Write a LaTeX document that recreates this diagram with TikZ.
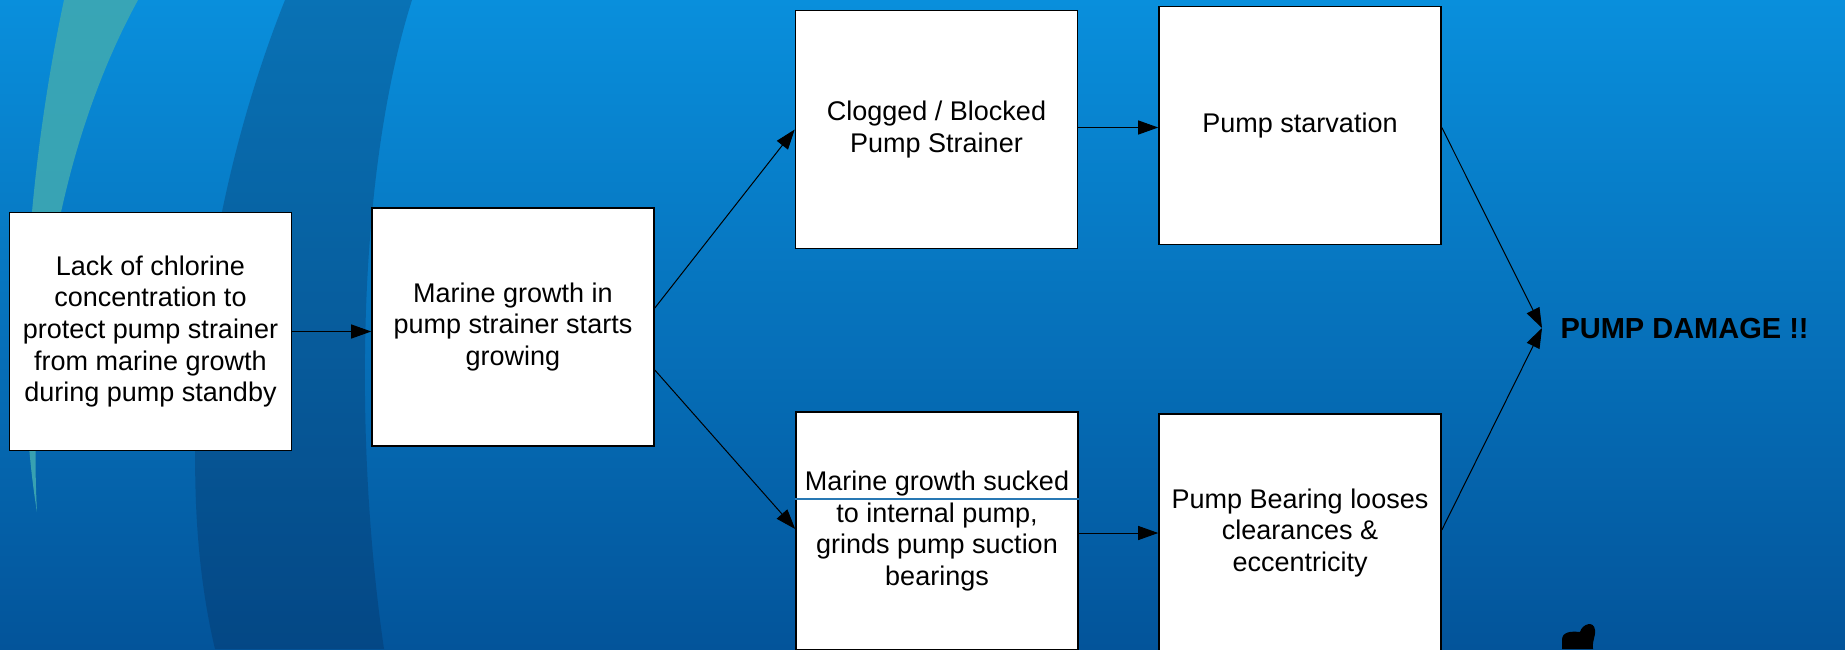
\documentclass[tikz,border=0pt]{standalone}
\usepackage{fontspec}
\setmainfont{Liberation Sans}
\usetikzlibrary{arrows.meta}

\definecolor{fondoarriba}{RGB}{9,143,220}
\definecolor{fondoabajo}{RGB}{3,84,154}
\definecolor{arcoclaro}{RGB}{62,168,178}
\definecolor{arcooscuro}{RGB}{10,40,80}
\definecolor{linea}{RGB}{40,120,180}

\begin{document}
\begin{tikzpicture}[x=0.5pt,y=-0.5pt,line width=0.5pt,>={Triangle[length=10pt,width=7pt]},
  caja/.style={draw=black,line width=0.8pt,fill=white,minimum width=141pt,minimum height=119pt,
    inner sep=2pt,align=center,font=\fontsize{13.5pt}{15.8pt}\selectfont}]
  \useasboundingbox (0,0) rectangle (1845,649);
  % fondo
  \shade[top color=fondoarriba,bottom color=fondoabajo] (0,0) rectangle (1845,649);
  \fill[arcooscuro,opacity=0.28] (285,0) .. controls (205,200) and (170,460) .. (215,649)
    -- (384,649) .. controls (355,450) and (355,180) .. (412,0) -- cycle;
  \fill[arcoclaro,opacity=0.9] (64,0) .. controls (30,160) and (12,360) .. (37,512)
    .. controls (30,380) and (45,170) .. (138,0) -- cycle;
  \fill[black] (1562,649) -- (1562,640) .. controls (1562,632) and (1570,631) .. (1580,632)
    .. controls (1582,624) and (1594,620) .. (1595,630) .. controls (1596,636) and (1592,640) .. (1593,649) -- cycle;
  % cajas
  \node[caja] (falta) at (150.5,331.5) {Lack of chlorine\\concentration to\\protect pump strainer\\from marine growth\\during pump standby};
  \node[caja] (crece) at (513,327) {Marine growth in\\pump strainer starts\\growing};
  \node[caja] (tapado) at (936.5,129.5) {Clogged / Blocked\\Pump Strainer};
  \node[caja] (hambre) at (1300,125.5) {Pump starvation};
  \node[caja] (succion) at (937,531) {Marine growth sucked\\to internal pump,\\grinds pump suction\\bearings};
  \node[caja] (cojinete) at (1300,533) {Pump Bearing looses\\clearances \&\\eccentricity};
  \draw[linea,line width=0.6pt] ([yshift=16pt]succion.west) -- ([yshift=16pt]succion.east);
  % resultado
  \node[anchor=west,inner sep=0pt,font=\fontsize{14.5pt}{17pt}\selectfont\bfseries] (dano) at (1560,329) {PUMP DAMAGE !!};
  \coordinate (junta) at (1542,328);
  % flechas
  \draw[->] (falta.east) -- (falta.east -| crece.west);
  \draw[->] ([yshift=9.5pt]crece.east) -- (tapado.west);
  \draw[->] ([yshift=-21.5pt]crece.east) -- ([yshift=1pt]succion.west);
  \draw[->] ([yshift=1pt]tapado.east) -- ([yshift=1pt]tapado.east -| hambre.west);
  \draw[->] ([yshift=-1pt]succion.east) -- ([yshift=-1pt]succion.east -| cojinete.west);
  \draw[->] ([yshift=-1pt]hambre.east) -- (junta);
  \draw[->] ([yshift=1.5pt]cojinete.east) -- (junta);
\end{tikzpicture}
\end{document}
